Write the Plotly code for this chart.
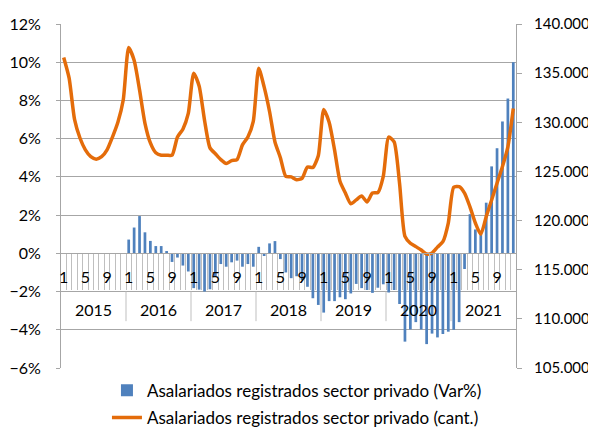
import plotly.graph_objects as go

years = [2015, 2016, 2017, 2018, 2019, 2020, 2021]
months = list(range(1, 13))

var_pct = [
    None, None, None, None, None, None, None, None, None, None, None, None,
    0.72, 1.35, 1.95, 1.1, 0.65, 0.38, 0.38, 0.12, -0.45, -0.22, -0.64, -0.95,
    -1.82, -1.9, -2.0, -1.88, -1.2, -0.56, -0.7, -0.47, -0.38, -0.7, -0.56, -0.7,
    0.34, -0.14, 0.52, 0.64, -0.3, -1.0, -1.3, -1.2, -1.4, -1.75, -2.35, -2.7,
    -3.1, -2.5, -2.5, -2.3, -2.4, -2.1, -1.6, -1.82, -1.92, -2.07, -1.8, -1.62,
    -2.05, -1.92, -2.65, -4.62, -3.98, -3.6, -3.98, -4.75, -4.2, -4.4, -4.22, -4.1,
    -4.0, -3.6, -0.82, 2.05, 1.25, 1.1, 2.65, 4.55, 5.5, 6.9, 8.1, 10.0,
]

cantidad = [
    136600, 134500, 130300, 128400, 127200, 126500, 126250, 126500, 127200, 128500, 130000, 132300,
    137600, 136300, 133300, 129900, 127900, 126900, 126650, 126650, 126650, 128500, 129300, 130900,
    135000, 133700, 130200, 127400, 126800, 126200, 125800, 126100, 126200, 127700, 128500, 130100,
    135500, 133600, 131100, 128000, 126400, 124500, 124450, 124150, 124300, 125450, 125400, 126600,
    131300, 130000, 127200, 124000, 122800, 121700, 122100, 122500, 121900, 122800, 122850, 124500,
    128500, 128000, 123800, 118400, 117700, 117350, 117000, 116600, 116700, 117300, 117850, 119750,
    123400, 123450, 122800, 121400, 119750, 118600, 120400, 122100, 123800, 125500, 127500, 131400,
]

label_months = [1, 5, 9]
name_bar = "Asalariados registrados sector privado (Var%)"
name_line = "Asalariados registrados sector privado (cant.)"

n = len(years) * len(months)
idx = list(range(n))
month_of = [months[i % 12] for i in idx]
tickvals = [i for i in idx if month_of[i] in label_months]
ticktext = [str(month_of[i]) for i in tickvals]

GRID = "#a6a6a6"
LIGHT = "#bfbfbf"
FONT = "Lato"
FS = 16
FL = 17

fig = go.Figure()
fig.add_trace(go.Bar(x=idx, y=var_pct, name=name_bar, marker_color="#4F81BD",
                     marker_line_width=0, yaxis="y", legendgroup="a"))
fig.add_trace(go.Scatter(x=idx, y=cantidad, name=name_line, mode="lines",
                         line=dict(color="#E46C0A", width=3.5, shape="spline", smoothing=0.6),
                         yaxis="y2", legendgroup="b"))

shapes = []
for k in range(1, len(years)):
    xb = 12 * k - 0.5
    shapes.append(dict(type="line", xref="x", yref="y", x0=xb, x1=xb, y0=-2, y1=-3.55,
                       line=dict(color=LIGHT, width=1), layer="above"))

annotations = []
for k, yr in enumerate(years):
    annotations.append(dict(x=12 * k + 5.5, y=-2, xref="x", yref="y", text=str(yr),
                            showarrow=False, yanchor="top", yshift=-6,
                            font=dict(family=FONT, size=FS, color="#000")))

fig.update_layout(
    width=588, height=421,
    margin=dict(l=53, r=80, t=16, b=61, autoexpand=False),
    paper_bgcolor="white", plot_bgcolor="white",
    separators=",.",
    bargap=0.5,
    font=dict(family=FONT, size=FS, color="#000"),
    shapes=shapes, annotations=annotations,
    showlegend=True,
    legend=dict(orientation="v", x=0.101, xanchor="left", y=-0.014, yanchor="top",
                font=dict(family=FONT, size=FL, color="#000"), tracegroupgap=2,
                itemwidth=30, bgcolor="rgba(0,0,0,0)"),
    xaxis=dict(range=[-0.5, n - 0.5], anchor="free", position=1/3,
               tickmode="array", tickvals=tickvals, ticktext=ticktext,
               ticks="", showgrid=False, zeroline=False,
               showline=True, linecolor=GRID, linewidth=1,
               ticklabelstandoff=9,
               minor=dict(tickmode="array", tickvals=[i - 0.5 for i in range(1, n)],
                          ticks="outside", ticklen=36, tickcolor=LIGHT, tickwidth=1,
                          showgrid=False),
               tickfont=dict(family=FONT, size=FS, color="#000"), fixedrange=True),
    yaxis=dict(range=[-6, 12], dtick=2, tick0=0, ticksuffix="%",
               showgrid=True, gridcolor=GRID, gridwidth=1, zeroline=False,
               showline=True, linecolor=GRID, ticks="outside", ticklen=4, tickcolor=GRID,
               tickfont=dict(family=FONT, size=FS, color="#000"), ticklabelstandoff=12),
    yaxis2=dict(range=[105000, 140000], dtick=5000, tick0=105000, overlaying="y", side="right",
                tickformat=",d", showgrid=False, zeroline=False,
                showline=True, linecolor=GRID, ticks="outside", ticklen=5, tickcolor=GRID,
                tickfont=dict(family=FONT, size=15, color="#000"), ticklabelstandoff=9),
)

fig.write_html("out.html")
